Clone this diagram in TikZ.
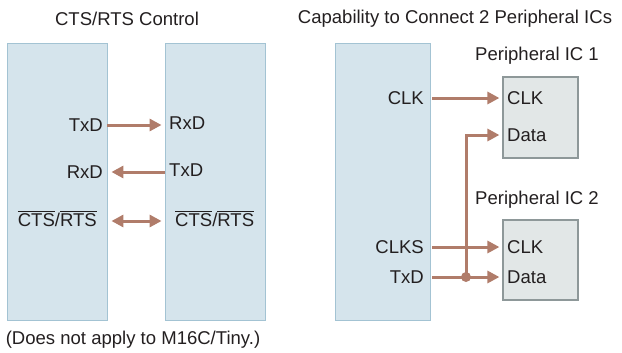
\documentclass[tikz,border=0pt]{standalone}
\usepackage{fontspec}
\setmainfont{Liberation Sans}
\usetikzlibrary{arrows.meta,positioning}
\definecolor{mcublue}{HTML}{D5E4EC}
\definecolor{mcuedge}{HTML}{A3C3D3}
\definecolor{icgray}{HTML}{E2E7E7}
\definecolor{icedge}{HTML}{8E9899}
\definecolor{sigline}{HTML}{B07C6A}
\definecolor{inktext}{HTML}{231F20}
\newcommand{\barsig}[1]{$\overline{\mbox{#1}\rule{0pt}{14pt}}$}

\begin{document}
\begin{tikzpicture}[x=1bp, y=-1bp, >={Triangle[length=12bp,width=12bp]},
    every node/.style={font=\fontsize{18.6}{21}\selectfont, text=inktext, inner sep=0pt},
    chip/.style={draw=mcuedge, fill=mcublue, line width=0.9bp, minimum width=100bp, minimum height=277bp},
    ic/.style={draw=icedge, fill=icgray, line width=1.2bp, minimum width=75bp, minimum height=81bp},
    sig/.style={line width=3bp, sigline}]
    \useasboundingbox (0,0) rectangle (622,352);
    \node[chip] (boxA) at (57,181.5) {};
    \node[chip] (boxB) at (215,181.5) {};
    \node[chip, minimum width=95bp] (boxC) at (382.5,181.5) {};
    \node[ic] (icA) at (540.5,117.5) {};
    \node[ic, minimum height=80bp] (icB) at (540.5,260) {};
    \node (titleA) at (127,19) {CTS/RTS Control};
    \node (titleB) at (455,19) {Capability to Connect 2 Peripheral ICs};
    \node (noteA) at (133,340) {(Does not apply to M16C/Tiny.)};
    \node (nameA) at (537,56) {Peripheral IC 1};
    \node (nameB) at (537,200) {Peripheral IC 2};
    \node[anchor=east] (txdA) at (103,125) {TxD};
    \node[anchor=east] (rxdA) at (103,172) {RxD};
    \node[anchor=east] (ctsA) at (97,219) {\barsig{CTS}/\barsig{RTS}};
    \node[anchor=west] (rxdB) at (169,123) {RxD};
    \node[anchor=west] (txdB) at (169,170) {TxD};
    \node[anchor=west] (ctsB) at (175,219) {\barsig{CTS}/\barsig{RTS}};
    \node[anchor=east] (clkC) at (424,98) {CLK};
    \node[anchor=east] (clksC) at (424,247) {CLKS};
    \node[anchor=east] (txdC) at (424,277) {TxD};
    \node[anchor=west] (clkA) at (507,98) {CLK};
    \node[anchor=west] (dataA) at (507,135) {Data};
    \node[anchor=west] (clkB) at (507,247) {CLK};
    \node[anchor=west] (dataB) at (507,277) {Data};
    \coordinate (tap) at (466,277);
    \draw[sig, ->] (boxA.east |- txdA) -- ([xshift=-3bp]boxB.west |- txdA);
    \draw[sig, ->] (boxB.west |- rxdA) -- ([xshift=4bp]boxA.east |- rxdA);
    \draw[sig, <->] ([xshift=4bp]boxA.east |- 0,221) -- ([xshift=-3bp]boxB.west |- 0,221);
    \draw[sig, ->] ([xshift=2bp]boxC.east |- clkC) -- ([xshift=-3bp]icA.west |- clkA);
    \draw[sig, ->] ([xshift=2bp]boxC.east |- clksC) -- ([xshift=-3bp]icB.west |- clkB);
    \draw[sig, ->] ([xshift=2bp]boxC.east |- txdC) -- ([xshift=-3bp]icB.west |- dataB);
    \draw[sig, ->] (tap) |- ([xshift=-3bp]icA.west |- dataA);
    \fill[sigline] (tap) circle (5bp);
\end{tikzpicture}
\end{document}
